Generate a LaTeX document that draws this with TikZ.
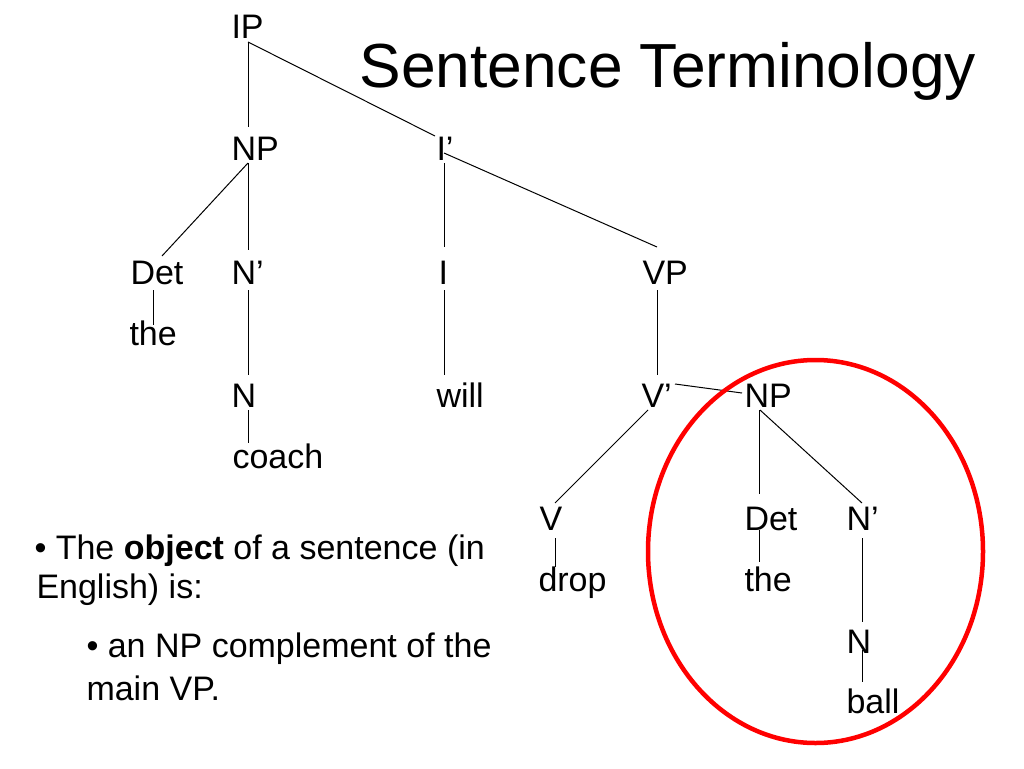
\documentclass[tikz,border=0pt]{standalone}
\usepackage{fontspec}
\setmainfont{Liberation Sans}

\tikzset{every path/.style={line width=1pt}}
\tikzset{lbl/.style={anchor=base west,inner sep=0pt,font=\fontsize{34}{40}\selectfont}}
\tikzset{txt/.style={anchor=base west,inner sep=0pt,font=\fontsize{34}{40}\selectfont}}

\begin{document}
\begin{tikzpicture}[x=1pt,y=-1pt]
    \useasboundingbox (0,0) rectangle (1024,768);
    \node[anchor=base west,inner sep=0pt,font=\fontsize{62.3}{70}\selectfont] (title) at (359,87) {Sentence Terminology};
    % tree labels
    \node[lbl] (IP)    at (231,38)  {IP};
    \node[lbl] (NPs)   at (231,160) {NP};
    \node[lbl] (Ibar)  at (436,160) {I’};
    \node[lbl] (Det)   at (130,284) {Det};
    \node[lbl] (Nbar)  at (231,284) {N’};
    \node[lbl] (I)     at (438,284) {I};
    \node[lbl] (VP)    at (642,284) {VP};
    \node[lbl] (the)   at (129,345) {the};
    \node[lbl] (N)     at (231,407) {N};
    \node[lbl] (will)  at (436,407) {will};
    \node[lbl] (Vbar)  at (641,407) {V’};
    \node[lbl] (NPo)   at (744,407) {NP};
    \node[lbl] (coach) at (232,468) {coach};
    \node[lbl] (V)     at (539,530) {V};
    \node[lbl] (Deto)  at (744,530) {Det};
    \node[lbl] (Nbaro) at (846,530) {N’};
    \node[lbl] (drop)  at (538,591) {drop};
    \node[lbl] (theo)  at (744,591) {the};
    \node[lbl] (No)    at (846,653) {N};
    \node[lbl] (ball)  at (846,713) {ball};
    % branches
    \draw ([shift={(17,4)}]IP.base west) -- ([shift={(17,-33)}]NPs.base west);
    \draw ([shift={(17,4)}]IP.base west) -- ([shift={(-1,-24)}]Ibar.base west);
    \draw ([shift={(17,3)}]NPs.base west) -- ([shift={(32,-28)}]Det.base west);
    \draw ([shift={(17,3)}]NPs.base west) -- ([shift={(17,-34)}]Nbar.base west);
    \draw ([shift={(8,3)}]Ibar.base west) -- ([shift={(6,-37)}]I.base west);
    \draw ([shift={(8,-7)}]Ibar.base west) -- ([shift={(15,-37)}]VP.base west);
    \draw ([shift={(23,6)}]Det.base west) -- ([shift={(24,-20)}]the.base west);
    \draw ([shift={(17,6)}]Nbar.base west) -- ([shift={(17,-32)}]N.base west);
    \draw ([shift={(17,3)}]N.base west) -- ([shift={(16,-25)}]coach.base west);
    \draw ([shift={(6,6)}]I.base west) -- ([shift={(8,-32)}]will.base west);
    \draw ([shift={(15,6)}]VP.base west) -- ([shift={(16,-32)}]Vbar.base west);
    \draw ([shift={(34,-23)}]Vbar.base west) -- ([shift={(-2,-14)}]NPo.base west);
    \draw ([shift={(7,3)}]Vbar.base west) -- ([shift={(16,-27)}]V.base west);
    \draw ([shift={(16,8)}]V.base west) -- ([shift={(17,-24)}]drop.base west);
    \draw ([shift={(15,3)}]NPo.base west) -- ([shift={(15,-36)}]Deto.base west);
    \draw ([shift={(16,3)}]NPo.base west) -- ([shift={(16,-27)}]Nbaro.base west);
    \draw ([shift={(15,0)}]Deto.base west) -- ([shift={(15,-29)}]theo.base west);
    \draw ([shift={(16,8)}]Nbaro.base west) -- ([shift={(16,-31)}]No.base west);
    \draw ([shift={(16,-3)}]No.base west) -- ([shift={(16,-31)}]ball.base west);
    % object circle
    \draw[red,line width=4.5pt] (815.5,551.5) ellipse [x radius=167.5,y radius=191.5];
    % bullets
    \node[txt] (b1) at (34,559) {• The \textbf{object} of a sentence (in};
    \node[txt] (b2) at (36,598) {English) is:};
    \node[txt] (b3) at (86,657) {• an NP complement of the};
    \node[txt] (b4) at (86,700) {main VP.};
\end{tikzpicture}
\end{document}
